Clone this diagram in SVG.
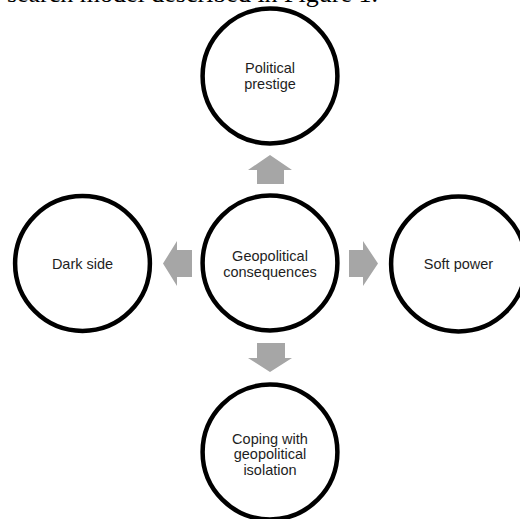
<svg xmlns="http://www.w3.org/2000/svg" width="520" height="519" viewBox="0 0 520 519">
<style>
.node circle{fill:#fff;stroke:#000;stroke-width:4.5}
.node text{font-family:"Liberation Sans",Arial,sans-serif;font-size:14.5px;fill:#1e1e1e;text-anchor:middle}
.arrow{fill:#a6a6a6}
.cap{font-family:"Liberation Serif","Times New Roman",serif;font-size:26px;fill:#000;text-anchor:end}
</style>
<rect width="520" height="519" fill="#fff"/>
<text class="cap" x="378" y="1.5">search model described in Figure 1.</text>
<g id="connectors">
<polygon class="arrow" points="270,155 292,170 284,170 284,184 257,184 257,170 248,170"/>
<polygon class="arrow" points="270,372 292,358 285,358 285,343 257,343 257,358 248,358"/>
<polygon class="arrow" points="163,263.5 177,241 177,250 192,250 192,277 177,277 177,286"/>
<polygon class="arrow" points="378,263.5 363,241 363,250 349,250 349,277 363,277 363,286"/>
</g>
<g id="node-political-prestige" class="node">
<circle cx="270" cy="76" r="67.4"/>
<text x="270" y="72.7">Political</text>
<text x="270" y="88.5">prestige</text>
</g>
<g id="node-geopolitical-consequences" class="node">
<circle cx="270" cy="263" r="67.4"/>
<text x="270" y="261">Geopolitical</text>
<text x="270" y="277">consequences</text>
</g>
<g id="node-dark-side" class="node">
<circle cx="82.5" cy="263.5" r="67.4"/>
<text x="82.5" y="269.3">Dark side</text>
</g>
<g id="node-soft-power" class="node">
<circle cx="458.5" cy="264" r="67.4"/>
<text x="458.5" y="269.3">Soft power</text>
</g>
<g id="node-coping" class="node">
<circle cx="270" cy="452" r="67.4"/>
<text x="270" y="443.5">Coping with</text>
<text x="270" y="459">geopolitical</text>
<text x="270" y="474.5">isolation</text>
</g>
</svg>
